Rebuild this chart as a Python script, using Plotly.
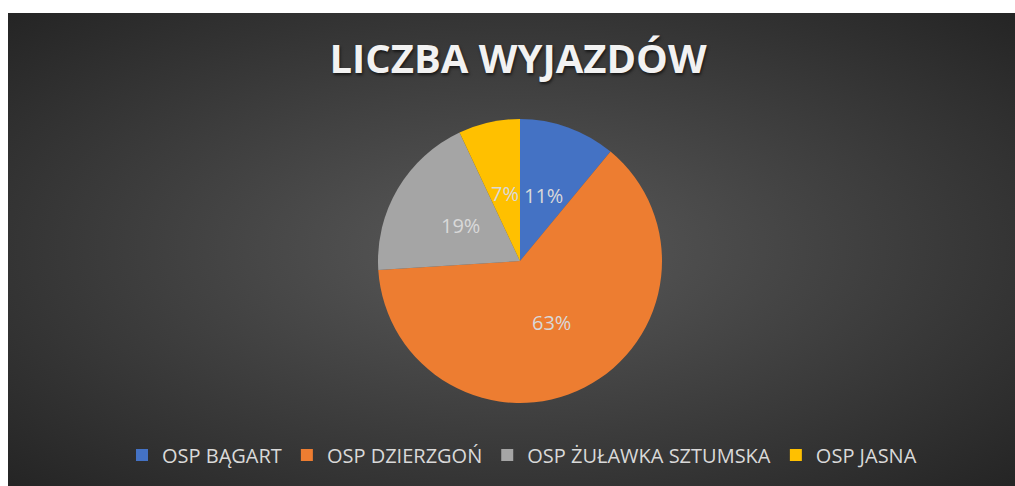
import base64
import math
import plotly.graph_objects as go

# data
labels = ['OSP BĄGART', 'OSP DZIERZGOŃ', 'OSP ŻUŁAWKA SZTUMSKA', 'OSP JASNA']
values = [11, 63, 19, 7]
colors = ['#4472C4', '#ED7D31', '#A5A5A5', '#FFC000']
title_text = 'LICZBA WYJAZDÓW'

W, H = 1015, 486
LEFT, TOP = 8, 13  # white strip left/top of the dark chart area

# pie box in page pixels
PX0, PX1 = 378, 662
PY0, PY1 = 119, 403

# radial gradient background (dark grey, lighter in the middle)
svg = (
    "<svg xmlns='http://www.w3.org/2000/svg' width='1000' height='500' "
    "viewBox='0 0 1000 500' preserveAspectRatio='none'>"
    "<defs><radialGradient id='g' cx='0.5' cy='0.5' r='0.7'>"
    "<stop offset='0' stop-color='#5a5a5a'/>"
    "<stop offset='1' stop-color='#252525'/>"
    "</radialGradient></defs>"
    "<rect width='1000' height='500' fill='url(#g)'/></svg>"
)
bg_src = 'data:image/svg+xml;base64,' + base64.b64encode(svg.encode()).decode()

fig = go.Figure()
fig.add_trace(go.Pie(
    labels=labels,
    values=values,
    sort=False,
    direction='clockwise',
    rotation=0,
    marker=dict(colors=colors, line=dict(width=0)),
    textinfo='none',
    domain=dict(x=[PX0 / W, PX1 / W], y=[1 - PY1 / H, 1 - PY0 / H]),
    showlegend=True,
    hoverinfo='label+value+percent',
))

# percentage labels, Excel style: halfway out along each slice's middle angle
cx, cy = (PX0 + PX1) / 2, (PY0 + PY1) / 2
R = (PX1 - PX0) / 2
total = sum(values)
annotations = []
cum = 0
for v in values:
    mid = (cum + v / 2) / total * 2 * math.pi
    cum += v
    lx = cx + 0.49 * R * math.sin(mid)
    ly = cy - 0.49 * R * math.cos(mid)
    annotations.append(dict(
        text=f'{round(100 * v / total)}%',
        x=lx / W, y=1 - ly / H,
        xref='paper', yref='paper',
        xanchor='center', yanchor='middle',
        showarrow=False,
        font=dict(family='Open Sans', size=20, color='#D9D9D9'),
    ))

fig.update_layout(
    width=W,
    height=H,
    autosize=False,
    title=dict(
        text='<b>' + title_text + '</b>',
        x=518 / W,
        y=1 - 59 / H,
        xref='paper',
        yref='paper',
        xanchor='center',
        yanchor='middle',
        font=dict(family='Open Sans', size=40, color='#F2F2F2',
                  shadow='1px 2px 3px rgba(0,0,0,0.6)'),
    ),
    legend=dict(
        orientation='h',
        x=522 / W,
        xanchor='center',
        y=1 - 455 / H,
        yanchor='middle',
        bgcolor='rgba(0,0,0,0)',
        font=dict(family='Open Sans', size=20, color='#D9D9D9'),
        traceorder='normal',
    ),
    annotations=annotations,
    images=[dict(
        source=bg_src,
        xref='paper', yref='paper',
        x=LEFT / W, y=1 - TOP / H,
        sizex=1 - LEFT / W, sizey=1 - TOP / H,
        xanchor='left', yanchor='top',
        sizing='stretch',
        layer='below',
    )],
    margin=dict(l=0, r=0, t=0, b=0),
    paper_bgcolor='white',
    plot_bgcolor='rgba(0,0,0,0)',
)

# drop the default page margin and scrollbars so the figure fills the window
fig.write_html(
    "out.html",
    config={'displayModeBar': False},
    post_script="document.body.style.margin = '0px';"
                "document.documentElement.style.overflow = 'hidden';",
)
